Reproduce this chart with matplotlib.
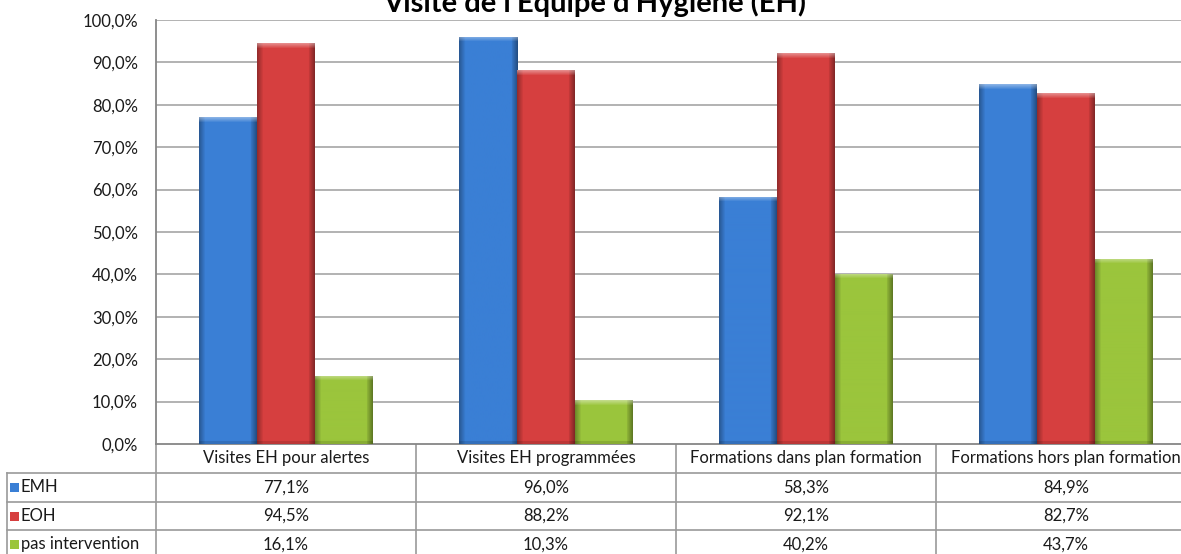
import matplotlib
matplotlib.use("Agg")
import matplotlib.pyplot as plt
import numpy as np
from matplotlib.colors import to_rgb
from matplotlib.patches import Rectangle

# ---------------- data ----------------
title = "Visite de l'Equipe d'Hygiène (EH)"
categories = ["Visites EH pour alertes", "Visites EH programmées",
              "Formations dans plan formation", "Formations hors plan formation"]
series_names = ["EMH", "EOH", "pas intervention"]
emh = [77.1, 96.0, 58.3, 84.9]
eoh = [94.5, 88.2, 92.1, 82.7]
pas_intervention = [16.1, 10.3, 40.2, 43.7]
yticks = [0, 10, 20, 30, 40, 50, 60, 70, 80, 90, 100]

series = [emh, eoh, pas_intervention]
colors = ["#3a7fd5", "#d63f3f", "#9bc53c"]

plt.rcParams["font.family"] = ["Lato", "DejaVu Sans"]

W, H = 1181, 554
fig = plt.figure(figsize=(W / 100, H / 100), dpi=100)
fig.patch.set_facecolor("white")

# plot area in pixels
L, R, T, B = 156, 1181, 20, 444
col_px = 260.0
ax = fig.add_axes([L / W, (H - B) / H, (R - L) / W, (B - T) / H])
ax.set_facecolor("white")

xmax = (R - L) / col_px
bw = 58 / col_px
x = np.arange(len(categories)) + 0.5

grid_c = "#a6a6a6"
for yv in yticks[1:]:
    ax.axhline(yv, color=grid_c, lw=1.2, zorder=0)


def fmt(v):
    return f"{v:.1f}%".replace(".", ",")


def shade_img(color, wpx, hpx):
    base = np.array(to_rgb(color))
    nx = max(int(round(wpx)), 2)
    ny = max(int(round(hpx)), 2)
    fx = np.ones(nx)
    e = 6
    for i in range(min(e, nx)):
        fx[i] = 0.70 + 0.30 * (i / e)
        fx[-1 - i] = 0.62 + 0.34 * (i / e)
    fy = np.ones(ny)
    for j in range(min(5, ny)):
        fy[j] = 1.18 - 0.18 * (j / 5)
    fy[-3:] *= 0.88
    img = base[None, None, :] * fx[None, :, None]
    img = img * np.ones((ny, 1, 1))
    top = fy[:, None, None]
    img = np.where(top > 1, img + (1 - img) * (top - 1) * 2.2, img * top)
    return np.clip(img, 0, 1)


for k, (vals, c) in enumerate(zip(series, colors)):
    bars = ax.bar(x + (k - 1) * bw, vals, width=bw, color=c, zorder=2, linewidth=0)
    for p in bars.patches:
        x0, w, h = p.get_x(), p.get_width(), p.get_height()
        wpx = w * col_px
        hpx = h / 100 * (B - T)
        im = ax.imshow(shade_img(c, wpx, hpx), extent=[x0, x0 + w, 0, h],
                       aspect="auto", zorder=3, interpolation="bilinear",
                       origin="upper")
        im.set_clip_path(p)

ax.set_xlim(0, xmax)
ax.set_ylim(0, 100)
ax.set_yticks(yticks)
ax.set_yticklabels([fmt(v) for v in yticks], fontsize=12, color="#1a1a1a")
ax.set_xticks([])
ax.tick_params(axis="y", length=0, pad=13)
for s in ["top", "right"]:
    ax.spines[s].set_visible(False)
for s in ["left", "bottom"]:
    ax.spines[s].set_color("#868686")
    ax.spines[s].set_linewidth(1.3)

fig.text(595 / W, (H - 12) / H, title, ha="center", va="baseline",
         fontsize=21, fontweight="bold", color="black")

# ---------------- data table ----------------
axt = fig.add_axes([0, 0, 1, 1], zorder=-1)
axt.set_xlim(0, W)
axt.set_ylim(H, 0)
axt.axis("off")

line_c = "#9a9a9a"
tbl_left = 7
row_tops = [B, 473, 502, 530, 559]
bounds = [ax.transData.transform((i, 0))[0] for i in range(len(categories) + 1)]

for yv in row_tops[1:]:
    axt.plot([tbl_left, W], [yv, yv], color=line_c, lw=1.2)
axt.plot([tbl_left, tbl_left], [row_tops[1], row_tops[-1]], color=line_c, lw=1.2)
for bx in bounds:
    axt.plot([bx, bx], [B, row_tops[-1]], color=line_c, lw=1.2)

fs = 12
for i, cat in enumerate(categories):
    cx = (bounds[i] + bounds[i + 1]) / 2
    axt.text(cx, (row_tops[0] + row_tops[1]) / 2, cat, ha="center", va="center",
             fontsize=fs, color="#1a1a1a")
for r, (name, vals, c) in enumerate(zip(series_names, series, colors)):
    yc = (row_tops[r + 1] + row_tops[r + 2]) / 2
    axt.add_patch(Rectangle((10, yc - 4.5), 9, 9, facecolor=c, edgecolor="none"))
    axt.text(21, yc, name, ha="left", va="center", fontsize=fs, color="#1a1a1a")
    for i, v in enumerate(vals):
        cx = (bounds[i] + bounds[i + 1]) / 2
        axt.text(cx, yc, fmt(v), ha="center", va="center", fontsize=fs, color="#1a1a1a")

fig.savefig("out.png", dpi=100)
